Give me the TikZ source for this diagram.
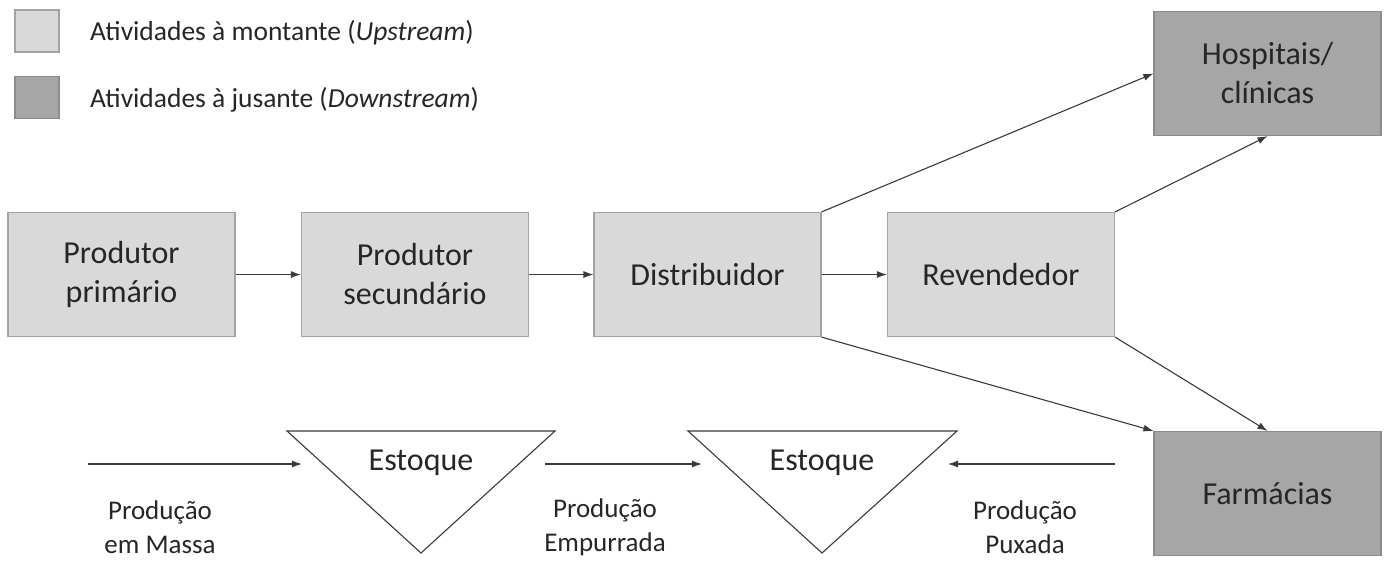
\documentclass[tikz,border=0pt]{standalone}
\usepackage{fontspec}
\setmainfont{Carlito}
\usetikzlibrary{arrows.meta}
\definecolor{upfill}{HTML}{D9D9D9}
\definecolor{downfill}{HTML}{A6A6A6}
\definecolor{boxline}{HTML}{A3A3A3}
\definecolor{downline}{HTML}{8C8C8C}
\definecolor{txt}{HTML}{262626}
\definecolor{arrowc}{HTML}{3A3A3A}
\begin{document}
\begin{tikzpicture}[x=1pt,y=-1pt,
  upbox/.style={draw=boxline, fill=upfill, line width=1.2pt, minimum width=227pt,
    minimum height=124pt, align=center, inner sep=0pt, text=txt,
    font=\fontsize{32}{39}\selectfont},
  downbox/.style={upbox, fill=downfill, draw=downline},
  keybox/.style={draw=boxline, fill=upfill, line width=1.2pt, minimum width=44pt,
    minimum height=42pt, inner sep=0pt},
  keytext/.style={anchor=west, text=txt, inner sep=0pt, font=\fontsize{27.5}{32}\selectfont},
  flow/.style={-{Latex[length=10pt,width=7pt]}, line width=1.1pt, draw=arrowc},
  tri/.style={draw=arrowc, line width=1.1pt},
  stocklbl/.style={text=txt, inner sep=0pt, font=\fontsize{32}{38}\selectfont},
  modelbl/.style={text=txt, align=center, inner sep=0pt, font=\fontsize{27}{34}\selectfont}
]
\useasboundingbox (0,0) rectangle (1384,560);

% legend
\node[keybox] (kup) at (37,31) {};
\node[keybox, fill=downfill, draw=downline] (kdown) at (37,97.5) {};
\node[keytext] (tup) at (90,33) {Atividades à montante (\textit{Upstream})};
\node[keytext] (tdown) at (90,100) {Atividades à jusante (\textit{Downstream})};

% supply chain stages
\node[upbox] (prim) at (121.5,274.5) {Produtor\\primário};
\node[upbox] (sec) at (415,274.5) {Produtor\\secundário};
\node[upbox] (dist) at (707.5,274.5) {Distribuidor};
\node[upbox] (rev) at (1001,274.5) {Revendedor};
\node[downbox] (hosp) at (1267.5,73.5) {Hospitais/\\clínicas};
\node[downbox] (farm) at (1267.5,493.5) {Farmácias};

\draw[flow] (prim) -- (sec);
\draw[flow] (sec) -- (dist);
\draw[flow] (dist) -- (rev);
\draw[flow] (dist.north east) -- (hosp.west);
\draw[flow] (rev.north east) -- (hosp.south);
\draw[flow] (dist.south east) -- (farm.north west);
\draw[flow] (rev.south east) -- (farm.north);

% inventory triangles
\coordinate (t1a) at (287,431);
\coordinate (t1b) at (555,431);
\coordinate (t1c) at (421,553);
\draw[tri] (t1a) -- (t1b) -- (t1c) -- cycle;
\node[stocklbl] (s1) at (421,463) {Estoque};

\coordinate (t2a) at (688,431);
\coordinate (t2b) at (957,431);
\coordinate (t2c) at (822,553);
\draw[tri] (t2a) -- (t2b) -- (t2c) -- cycle;
\node[stocklbl] (s2) at (822,463) {Estoque};

% production modes
\coordinate (a0) at (88,464);
\coordinate (a1) at (302,464);
\coordinate (b0) at (545,464);
\coordinate (b1) at (702,464);
\coordinate (c0) at (1115,464);
\coordinate (c1) at (948,464);
\draw[flow] (a0) -- (a1);
\draw[flow] (b0) -- (b1);
\draw[flow] (c0) -- (c1);

\node[modelbl] (m1) at (160,527) {Produção\\em Massa};
\node[modelbl] (m2) at (605,527) {Produção\\Empurrada};
\node[modelbl] (m3) at (1025,527) {Produção\\Puxada};
\end{tikzpicture}
\end{document}
